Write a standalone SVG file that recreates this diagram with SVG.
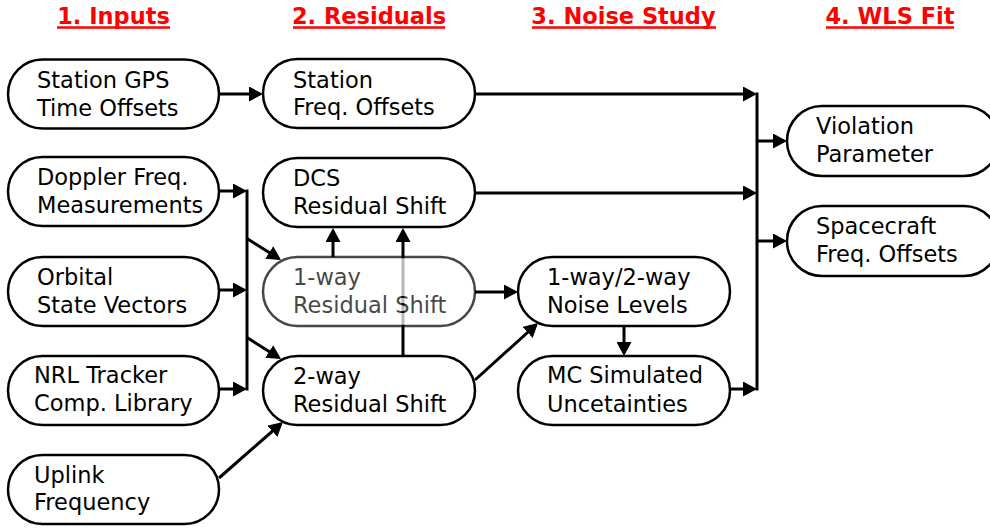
<svg xmlns="http://www.w3.org/2000/svg" width="990" height="530" viewBox="0 0 990 530">
<style>
.hdr{font-family:"DejaVu Sans","Liberation Sans",sans-serif;font-size:22.5px;font-weight:bold;fill:#ff0000;text-anchor:middle}
.ul{stroke:#ff0000;stroke-width:2.5}
.box{fill:#ffffff;stroke:#000000;stroke-width:2.5}
.t{font-family:"DejaVu Sans","Liberation Sans",sans-serif;font-size:22.5px;fill:#000000}
.c{fill:none;stroke:#000000;stroke-width:3}
.a{marker-end:url(#arr)}
</style>
<defs>
<marker id="arr" markerUnits="userSpaceOnUse" markerWidth="14" markerHeight="15" viewBox="0 0 14 15" refX="11" refY="7.5" orient="auto">
<path d="M0,0 L14,7.5 L0,15 Z" fill="#000000"/>
</marker>
</defs>
<g id="headers">
<text class="hdr" x="113.5" y="24">1. Inputs</text>
<line class="ul" x1="57" y1="27.5" x2="170" y2="27.5"/>
<text class="hdr" x="369" y="24">2. Residuals</text>
<line class="ul" x1="293" y1="27.5" x2="445" y2="27.5"/>
<text class="hdr" x="623.5" y="24">3. Noise Study</text>
<line class="ul" x1="532" y1="27.5" x2="716" y2="27.5"/>
<text class="hdr" x="890" y="24">4. WLS Fit</text>
<line class="ul" x1="826" y1="27.5" x2="954" y2="27.5"/>
</g>
<g id="connectors">
<path class="c a" d="M219,94 H260"/>
<path class="c a" d="M475,94 H754"/>
<path class="c a" d="M475,193 H754"/>
<path class="c a" d="M730,389 H754"/>
<path class="c" d="M757,92.5 V390.5"/>
<path class="c a" d="M757,141 H784"/>
<path class="c a" d="M757,241 H784"/>
<path class="c a" d="M219,191 H244"/>
<path class="c a" d="M219,290 H244"/>
<path class="c a" d="M219,389 H244"/>
<path class="c" d="M247,189.5 V390.5"/>
<path class="c a" d="M247,238.5 L278.5,258.4"/>
<path class="c a" d="M247,337.5 L278.5,357.4"/>
<path class="c a" d="M219,478 L280.7,424"/>
<path class="c a" d="M333,257 V231"/>
<path class="c a" d="M403,356 V231"/>
<path class="c a" d="M475,292 H515"/>
<path class="c a" d="M475,380 L535.8,325"/>
<path class="c a" d="M624,326 V353"/>
</g>
<g id="n_gps"><rect class="box" x="8" y="59.5" width="211" height="69" rx="34.5"/><text class="t" x="37" y="88">Station GPS</text><text class="t" x="37" y="116">Time Offsets</text></g>
<g id="n_stfreq"><rect class="box" x="263" y="59" width="212" height="69" rx="34.5"/><text class="t" x="293" y="88">Station</text><text class="t" x="293" y="115">Freq. Offsets</text></g>
<g id="n_doppler"><rect class="box" x="8" y="157" width="211" height="69" rx="34.5"/><text class="t" x="37" y="185">Doppler Freq.</text><text class="t" x="37" y="213">Measurements</text></g>
<g id="n_dcs"><rect class="box" x="263" y="158" width="212" height="69" rx="34.5"/><text class="t" x="293" y="186">DCS</text><text class="t" x="293" y="214">Residual Shift</text></g>
<g id="n_orbital"><rect class="box" x="8" y="257" width="211" height="69" rx="34.5"/><text class="t" x="37" y="285">Orbital</text><text class="t" x="37" y="313">State Vectors</text></g>
<g id="n_oneway" opacity="0.72"><rect class="box" x="263" y="257" width="212" height="69" rx="34.5"/><text class="t" x="293" y="285">1-way</text><text class="t" x="293" y="313">Residual Shift</text></g>
<g id="n_noise"><rect class="box" x="518" y="257" width="212" height="69" rx="34.5"/><text class="t" x="547" y="285">1-way/2-way</text><text class="t" x="547" y="313">Noise Levels</text></g>
<g id="n_nrl"><rect class="box" x="8" y="356" width="211" height="69" rx="34.5"/><text class="t" x="34" y="383">NRL Tracker</text><text class="t" x="34" y="411">Comp. Library</text></g>
<g id="n_twoway"><rect class="box" x="263" y="356" width="212" height="69" rx="34.5"/><text class="t" x="293" y="384">2-way</text><text class="t" x="293" y="412">Residual Shift</text></g>
<g id="n_mc"><rect class="box" x="518" y="356" width="212" height="69" rx="34.5"/><text class="t" x="547" y="383">MC Simulated</text><text class="t" x="547" y="412">Uncetainties</text></g>
<g id="n_uplink"><rect class="box" x="8" y="455" width="211" height="69" rx="34.5"/><text class="t" x="34" y="483">Uplink</text><text class="t" x="34" y="510">Frequency</text></g>
<g id="n_violation"><rect class="box" x="787" y="106" width="212" height="70" rx="35"/><text class="t" x="816" y="134">Violation</text><text class="t" x="816" y="162">Parameter</text></g>
<g id="n_spacecraft"><rect class="box" x="787" y="206" width="212" height="70" rx="35"/><text class="t" x="816" y="234">Spacecraft</text><text class="t" x="816" y="262">Freq. Offsets</text></g>
</svg>
